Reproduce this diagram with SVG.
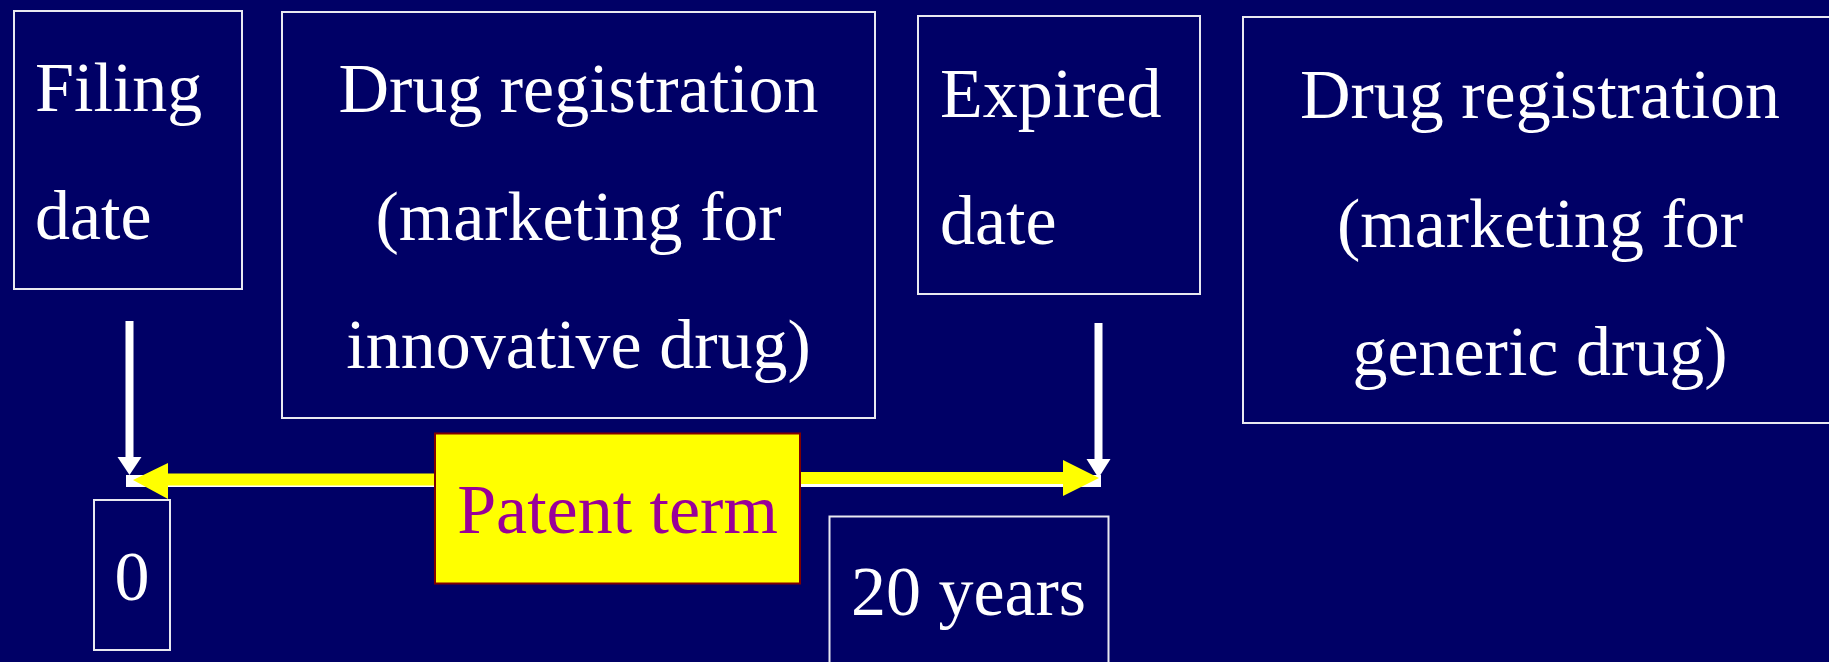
<svg xmlns="http://www.w3.org/2000/svg" width="1829" height="662" viewBox="0 0 1829 662">
<style>
.box{fill:#000066;stroke:#e8e8f0;stroke-width:2}
.t{font-family:"Liberation Serif","Times New Roman",serif;font-size:70px;fill:#ffffff}
.c{text-anchor:middle}
.pt{font-family:"Liberation Serif","Times New Roman",serif;font-size:70px;fill:#990099;text-anchor:middle}
</style>
<rect x="0" y="0" width="1829" height="662" fill="#000066"/>
<g id="connectors">
<rect x="126" y="475" width="975" height="12" fill="#ffffff"/>
<rect x="125.5" y="321" width="8" height="137" fill="#ffffff"/>
<polygon points="117.5,457 141.5,457 129.5,475" fill="#ffffff"/>
<rect x="1094.5" y="323" width="8" height="137" fill="#ffffff"/>
<polygon points="1086.5,459 1110.5,459 1098.5,478" fill="#ffffff"/>
<rect x="166" y="473.5" width="270" height="12" fill="#ffff00"/>
<polygon points="168,463 168,499 133,480" fill="#ffff00"/>
<rect x="799" y="472" width="265" height="12" fill="#ffff00"/>
<polygon points="1063,460 1063,496 1099,478" fill="#ffff00"/>
</g>
<g id="filing">
<rect class="box" x="14" y="11" width="228" height="278"/>
<text class="t" x="35" y="111">Filing</text>
<text class="t" x="35" y="239">date</text>
</g>
<g id="innovative">
<rect class="box" x="282" y="12" width="593" height="406"/>
<text class="t c" x="578.5" y="112">Drug registration</text>
<text class="t c" x="578.5" y="240">(marketing for</text>
<text class="t c" x="578.5" y="368">innovative drug)</text>
</g>
<g id="expired">
<rect class="box" x="918" y="16" width="282" height="278"/>
<text class="t" x="940" y="117">Expired</text>
<text class="t" x="940" y="244">date</text>
</g>
<g id="generic">
<rect class="box" x="1243" y="17" width="596" height="406"/>
<text class="t c" x="1540" y="118">Drug registration</text>
<text class="t c" x="1540" y="247">(marketing for</text>
<text class="t c" x="1540" y="375">generic drug)</text>
</g>
<g id="zero">
<rect class="box" x="94" y="500" width="76" height="150"/>
<text class="t c" x="132" y="600">0</text>
</g>
<g id="patent">
<rect x="435" y="433.5" width="365" height="150" fill="#ffff00" stroke="#800000" stroke-width="2"/>
<text class="pt" x="617.5" y="533">Patent term</text>
</g>
<g id="twenty">
<rect class="box" x="829.5" y="516.5" width="279" height="160"/>
<text class="t c" x="968.5" y="615">20 years</text>
</g>
</svg>
